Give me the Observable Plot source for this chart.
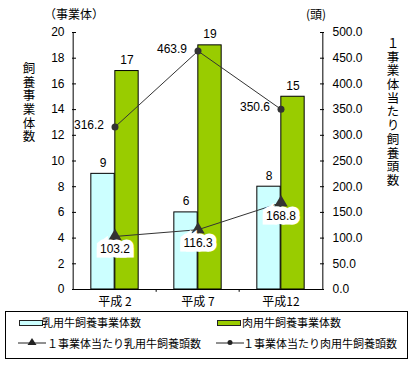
<!DOCTYPE html>
<html><head><meta charset="utf-8">
<script src="https://cdn.jsdelivr.net/npm/d3@7"></script>
<script src="https://cdn.jsdelivr.net/npm/@observablehq/plot@0.6"></script>
<style>
body{margin:0;background:#fff;}
#wrap{position:relative;width:411px;height:371px;overflow:hidden;font-family:"Liberation Sans","Noto Sans CJK JP",sans-serif;color:#000;background:#fff;}
#wrap svg{position:absolute;left:0;top:0;}
.abs{position:absolute;white-space:nowrap;line-height:1;}
.vt{position:absolute;writing-mode:vertical-rl;text-orientation:upright;font-family:"Noto Sans CJK JP",sans-serif;font-size:12.5px;line-height:1;letter-spacing:1.2px;}
#legend{position:absolute;left:5px;top:311px;width:403px;height:48px;border:1px solid #000;box-sizing:border-box;font-family:"Noto Sans CJK JP",sans-serif;font-size:11px;}
#legend .it{position:absolute;white-space:nowrap;line-height:1;}
.sw{position:absolute;width:22px;height:4px;border:1px solid #222;}
</style></head><body>
<div id="wrap"></div>
<script>
// ---- data ----
const categories = ["平成 2", "平成 7", "平成12"];
const seriesNames = ["乳用牛飼養事業体数", "肉用牛飼養事業体数", "１事業体当たり乳用牛飼養頭数", "１事業体当たり肉用牛飼養頭数"];
const dairyFarms = [9, 6, 8];
const beefFarms = [17, 19, 15];
const dairyPerFarm = [103.2, 116.3, 168.8];
const beefPerFarm = [316.2, 463.9, 350.6];
const leftTicks = [0, 2, 4, 6, 8, 10, 12, 14, 16, 18, 20];
const rightTicks = [0, 50, 100, 150, 200, 250, 300, 350, 400, 450, 500];
const leftUnit = "（事業体）";
const rightUnit = "(頭)";
const leftTitle = "飼養事業体数";
const rightTitle = "１事業体当たり飼養頭数";

const rows = categories.map((c, i) => ({c, dairy: dairyFarms[i], beef: beefFarms[i], dpf: dairyPerFarm[i], bpf: beefPerFarm[i]}));
const k = rightTicks[rightTicks.length - 1] / leftTicks[leftTicks.length - 1];

const W = 411, H = 310, mL = 72, mR = 88, mT = 32, mB = 21;
const bw = (W - mL - mR) / categories.length;
const barW = 24;
const cyan = "#ccffff", green = "#99cc00", lineC = "#333";

const chart = Plot.plot({
  width: W, height: H,
  marginLeft: mL, marginRight: mR, marginTop: mT, marginBottom: mB,
  style: {fontFamily: '"Liberation Sans","Noto Sans CJK JP",sans-serif', fontSize: "12px", background: "transparent", color: "#000"},
  x: {type: "band", domain: categories, padding: 0, label: null, axis: null},
  y: {domain: [leftTicks[0], leftTicks[leftTicks.length - 1]], label: null, axis: null},
  marks: [
    Plot.barY(rows, {x: "c", y: "dairy", fill: cyan, stroke: "#000", strokeWidth: 1, insetLeft: bw / 2 - barW, insetRight: bw / 2}),
    Plot.barY(rows, {x: "c", y: "beef", fill: green, stroke: "#000", strokeWidth: 1, insetLeft: bw / 2, insetRight: bw / 2 - barW}),
    Plot.ruleY([0], {stroke: "#000"}),
    Plot.ruleX([categories[0]], {dx: -bw / 2, y1: 0, y2: 20, stroke: "#000"}),
    Plot.ruleX([categories[categories.length - 1]], {dx: bw / 2, y1: 0, y2: 20, stroke: "#000"}),
    Plot.ruleX(categories.slice(1), {dx: -bw / 2, y1: 0, y2: -0.22, stroke: "#000"}),
    Plot.axisY({anchor: "left", ticks: leftTicks, tickSize: 4, dx: 4, stroke: "#000", fill: "none", label: null}),
    Plot.axisY({anchor: "left", ticks: leftTicks, tickSize: 0, tickPadding: 8, fontSize: 12, fill: "#000", label: null}),
    Plot.axisY({anchor: "right", ticks: leftTicks, tickSize: 4, dx: -4, stroke: "#000", fill: "none", label: null}),
    Plot.axisY({anchor: "right", ticks: rightTicks.map(v => v / k), tickFormat: d => (d * k).toFixed(1), tickSize: 0, tickPadding: 9, fontSize: 12, fill: "#000", label: null}),
    Plot.axisX({anchor: "bottom", tickSize: 0, tickPadding: 8, fontSize: 12, fill: "#000", label: null, fontFamily: '"Noto Sans CJK JP",sans-serif'}),
    Plot.text(rows, {x: "c", y: "dairy", text: d => String(d.dairy), dx: -barW / 2, dy: -11, fontSize: 12}),
    Plot.text(rows, {x: "c", y: "beef", text: d => String(d.beef), dx: barW / 2, dy: -11, fontSize: 12}),
    Plot.line(rows, {x: "c", y: d => d.bpf / k, stroke: lineC, strokeWidth: 1}),
    Plot.dot(rows, {x: "c", y: d => d.bpf / k, r: 3.5, fill: lineC, stroke: null}),
    Plot.line(rows, {x: "c", y: d => d.dpf / k, stroke: lineC, strokeWidth: 1}),
    Plot.dot(rows, {x: "c", y: d => d.dpf / k, symbol: "triangle", r: 5, fill: lineC, stroke: null}),
    Plot.text(rows, {x: "c", y: d => d.bpf / k, text: d => d.bpf.toFixed(1), textAnchor: "end", dx: -11, dy: -2, fontSize: 12}),
    Plot.text(rows, {x: "c", y: d => d.dpf / k, text: d => d.dpf.toFixed(1), dy: 13, fontSize: 12, fill: "#000", stroke: "white", strokeWidth: 9, strokeLinejoin: "miter"})
  ]
});

const wrap = document.getElementById("wrap");
wrap.appendChild(chart);

function addDiv(cls, text, css) {
  const d = document.createElement("div");
  d.className = cls; d.textContent = text;
  Object.assign(d.style, css);
  wrap.appendChild(d);
  return d;
}
addDiv("abs", leftUnit, {left: "44px", top: "8px", fontSize: "12px", fontFamily: '"Noto Sans CJK JP",sans-serif'});
addDiv("abs", rightUnit, {left: "306px", top: "8px", fontSize: "12px", fontFamily: '"Noto Sans CJK JP",sans-serif'});
addDiv("vt", leftTitle, {left: "22px", top: "62px"});
addDiv("vt", rightTitle, {left: "386px", top: "37px"});

// legend
const lg = document.createElement("div");
lg.id = "legend";
wrap.appendChild(lg);
function lgItem(html, css) {
  const d = document.createElement("div");
  d.className = "it"; d.innerHTML = html;
  Object.assign(d.style, css);
  lg.appendChild(d);
}
function swatch(color, left, top) {
  const d = document.createElement("div");
  d.className = "sw";
  Object.assign(d.style, {background: color, left: left + "px", top: top + "px"});
  lg.appendChild(d);
}
function lineSym(left, top, tri) {
  const ns = "http://www.w3.org/2000/svg";
  const s = document.createElementNS(ns, "svg");
  s.setAttribute("width", 28); s.setAttribute("height", 10);
  s.style.position = "absolute"; s.style.left = left + "px"; s.style.top = top + "px";
  s.innerHTML = `<line x1="0" y1="6" x2="28" y2="6" stroke="#222" stroke-width="1"/>` +
    (tri ? `<path d="M14,1 L18.5,8 L9.5,8 Z" fill="#222"/>` : `<circle cx="14" cy="5.5" r="2.5" fill="#222"/>`);
  lg.appendChild(s);
}
// box origin is (5,311) plus 1px border
swatch(cyan, 13, 8);
lgItem(seriesNames[0], {left: "36px", top: "5px"});
swatch(green, 211, 8);
lgItem(seriesNames[1], {left: "236px", top: "5px"});
lineSym(12, 25, true);
lgItem(seriesNames[2], {left: "41px", top: "26px"});
lineSym(210, 25, false);
lgItem(seriesNames[3], {left: "237px", top: "26px"});
</script>
</body></html>
